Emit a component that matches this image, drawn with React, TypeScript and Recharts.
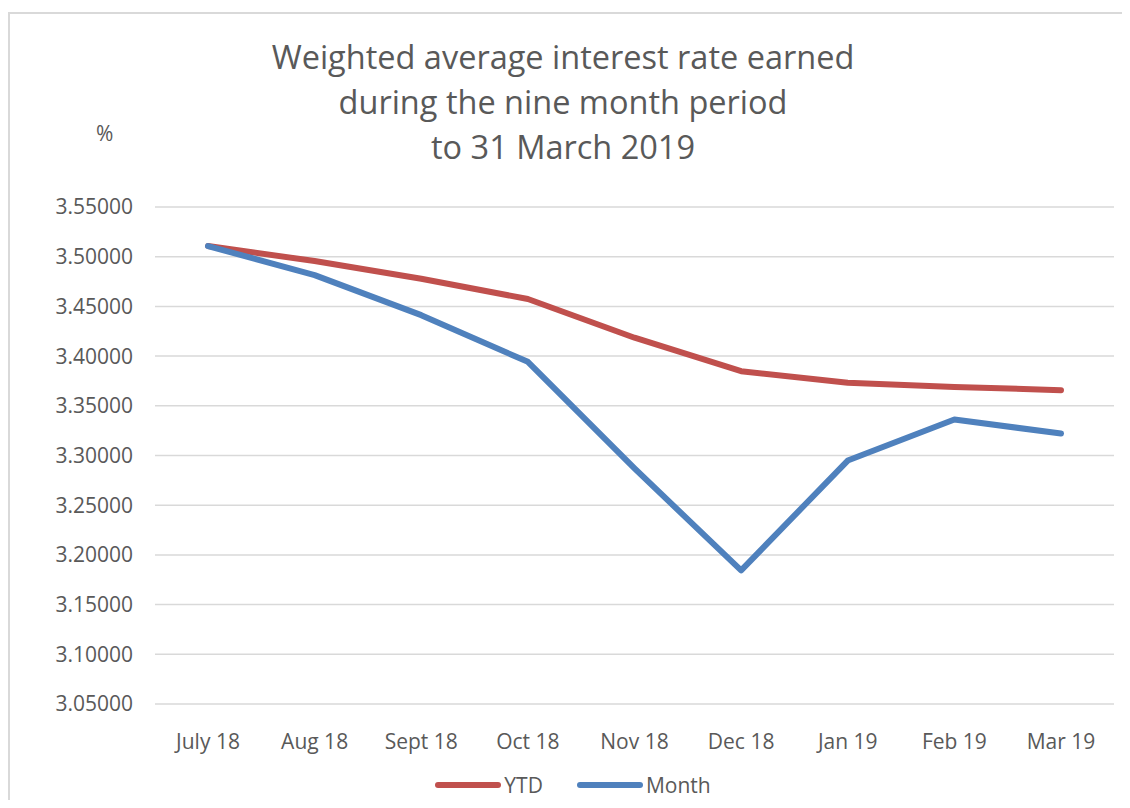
import React from "react";
import { LineChart, Line, XAxis, YAxis, CartesianGrid, Legend } from "recharts";

const months = ["July 18", "Aug 18", "Sept 18", "Oct 18", "Nov 18", "Dec 18", "Jan 19", "Feb 19", "Mar 19"];
const ytd = [3.5107, 3.4956, 3.4778, 3.4574, 3.4185, 3.3848, 3.3731, 3.3690, 3.3657];
const monthly = [3.5107, 3.4815, 3.4412, 3.3942, 3.2870, 3.1844, 3.2949, 3.3362, 3.3221];
const yTicks = [3.05, 3.1, 3.15, 3.2, 3.25, 3.3, 3.35, 3.4, 3.45, 3.5, 3.55];
const titleLines = ["Weighted average interest rate earned", "during the nine month period", "to 31 March 2019"];

const data = months.map((m, i) => ({ month: m, YTD: ytd[i], Month: monthly[i] }));

const FONT = "'Open Sans', sans-serif";
const GRAY = "#595959";
const RED = "#C0504D";
const BLUE = "#4F81BD";

const LegendContent = () => (
  <div style={{ display: "flex", justifyContent: "center", alignItems: "center", fontFamily: FONT, fontSize: 21, color: GRAY, height: 30 }}>
    {[{ n: "YTD", c: RED }, { n: "Month", c: BLUE }].map((it, i) => (
      <div key={it.n} style={{ display: "flex", alignItems: "center", marginLeft: i ? 34 : 0 }}>
        <svg width={66} height={8} style={{ marginRight: 3 }}>
          <line x1={3} y1={4} x2={63} y2={4} stroke={it.c} strokeWidth={6} strokeLinecap="round" />
        </svg>
        <span>{it.n}</span>
      </div>
    ))}
  </div>
);

export default function App() {
  return (
    <div style={{ position: "relative", width: 1114, height: 792, overflow: "hidden", background: "#fff" }}>
      <div style={{ position: "absolute", left: 0, top: 4, width: 1300, height: 1000, border: "2px solid #D9D9D9", boxSizing: "border-box" }} />
      <div style={{ position: "absolute", left: 0, top: 26, width: 1110, textAlign: "center", fontFamily: FONT, fontSize: 32.5, lineHeight: "45px", color: GRAY }}>
        {titleLines.map((t) => (
          <div key={t}>{t}</div>
        ))}
      </div>
      <div style={{ position: "absolute", left: 88, top: 111, fontFamily: FONT, fontSize: 21, color: GRAY }}>%</div>
      <div style={{ position: "absolute", left: 0, top: 0 }}>
        <LineChart width={1114} height={792} data={data} margin={{ top: 199, right: 8, left: 0, bottom: 26 }}>
          <CartesianGrid vertical={false} stroke="#D9D9D9" strokeWidth={1.5} />
          <XAxis
            dataKey="month"
            axisLine={false}
            tickLine={false}
            tickSize={0}
            tickMargin={30}
            height={40}
            padding={{ left: 53, right: 53 }}
            tick={{ fill: GRAY, fontSize: 21, fontFamily: FONT }}
            interval={0}
          />
          <YAxis
            domain={[3.05, 3.55]}
            ticks={yTicks}
            axisLine={false}
            tickLine={false}
            tickSize={0}
            tickMargin={22}
            width={147}
            tickFormatter={(v: number) => v.toFixed(5)}
            tick={{ fill: GRAY, fontSize: 21, fontFamily: FONT }}
            allowDataOverflow
          />
          <Legend verticalAlign="bottom" height={30} content={() => <LegendContent />} wrapperStyle={{ top: 762, left: 8, width: 1114 }} />
          <Line dataKey="YTD" stroke={RED} strokeWidth={6} dot={false} isAnimationActive={false} strokeLinecap="round" strokeLinejoin="round" />
          <Line dataKey="Month" stroke={BLUE} strokeWidth={6} dot={false} isAnimationActive={false} strokeLinecap="round" strokeLinejoin="round" />
        </LineChart>
      </div>
    </div>
  );
}
